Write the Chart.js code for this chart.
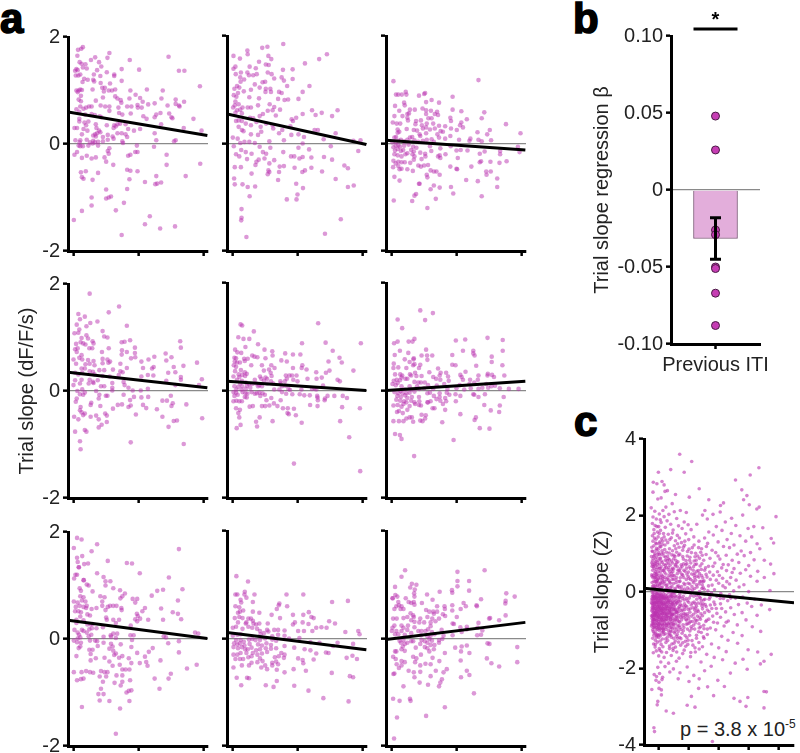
<!DOCTYPE html>
<html>
<head>
<meta charset="utf-8">
<script src="https://cdn.jsdelivr.net/npm/chart.js@4/dist/chart.umd.min.js"></script>
<style>
body { margin: 0; background: #fff; width: 800px; height: 753px; position: relative; overflow: hidden; }
canvas { position: absolute; }
.letter { position: absolute; font: bold 42px "Liberation Sans"; -webkit-text-stroke: 1.6px #000; color: #000; line-height: 42px; }
#pval { position: absolute; left: 680px; top: 718px; font: 20px "Liberation Sans"; color: #222; white-space: nowrap; }
#pval sup { font-size: 12px; line-height: 0; }
</style>
</head>
<body>
<div class="letter" style="left:0;top:-2px">a</div>
<div class="letter" style="left:573px;top:-2px">b</div>
<div class="letter" style="left:574px;top:401px">c</div>
<div id="pval">p = 3.8 x 10<sup>-5</sup></div>
<script>
const yTicksA = [-2, 0, 2];
const xTicksA = [0, 200, 400];
const yTicksB = [-0.1, -0.05, 0, 0.05, 0.1];
const yTicksC = [-4, -2, 0, 2, 4];
const xTicksC = [0, 100, 200, 300, 400];

// [time, slope]
const r1c1 = [[28,1.81],[23,1.78],[13,1.76],[11,1.65],[53,1.57],[66,1.62],[78,1.53],[110,1.7],[104,1.61],[173,1.57],[293,1.63],[18,1.53],[24,1.5],[36,1.49],[28,1.43],[40,1.41],[8,1.4],[4,1.37],[12,1.38],[20,1.3],[6,1.28],[14,1.28],[85,1.45],[72,1.38],[62,1.3],[102,1.34],[125,1.3],[125,1.27],[148,1.4],[202,1.39],[325,1.37],[342,1.37],[32,1.22],[43,1.2],[60,1.2],[63,1.17],[82,1.27],[83,1.14],[148,1.18],[112,1.13],[27,1.16],[390,1.08],[20,1.02],[8,1],[15,1],[25,1.01],[12,.97],[58,1.02],[88,1.05],[96,1.05],[93,.98],[108,1],[118,1],[128,1.02],[226,1.02],[275,1],[175,1],[22,.9],[15,.83],[22,.8],[68,.81],[90,.87],[128,.89],[135,.85],[145,.82],[172,.85],[191,.92],[205,.86],[271,.85],[315,.83],[341,.79],[213,.79],[8,.65],[20,.7],[30,.66],[38,.68],[47,.7],[55,.7],[83,.72],[97,.7],[110,.7],[138,.68],[147,.77],[165,.7],[178,.7],[197,.73],[198,.68],[210,.68],[230,.74],[250,.76],[290,.72],[315,.75],[327,.7],[325,.72],[110,.62],[17,.6],[35,.55],[55,.56],[65,.54],[80,.52],[85,.5],[140,.58],[150,.55],[176,.57],[215,.52],[225,.47],[250,.5],[255,.55],[268,.58],[295,.57],[302,.5],[305,.48],[370,.47],[17,.47],[17,.42],[45,.42],[33,.4],[38,.35],[68,.37],[70,.3],[102,.35],[125,.35],[130,.33],[135,.37],[143,.38],[123,.3],[160,.37],[168,.28],[186,.25],[205,.28],[270,.37],[340,.3],[395,.25],[2,.3],[10,.3],[30,.28],[42,.25],[78,.25],[82,.22],[66,.18],[25,.18],[60,.16],[68,.14],[72,.2],[90,.13],[105,.17],[120,.14],[135,.2],[148,.2],[160,.18],[165,.13],[250,.2],[255,.07],[315,.07],[310,.05],[5,.07],[20,.07],[18,.03],[40,.08],[60,.06],[75,.04],[90,.05],[50,.03],[58,.01],[65,.03],[105,.08],[123,.1],[150,.05],[152,.02],[15,-.03],[20,-.04],[28,-.04],[45,-.03],[75,-.03],[110,-.08],[105,-.13],[195,-.03],[197,-.15],[248,-.05],[10,-.15],[2,-.2],[25,-.26],[40,-.22],[55,-.27],[68,-.25],[95,-.25],[108,-.18],[100,-.33],[122,-.39],[168,-.22],[175,-.2],[190,-.15],[287,-.2],[287,-.39],[391,-.37],[22,-.53],[37,-.51],[25,-.62],[30,-.65],[58,-.67],[75,-.54],[165,-.48],[175,-.5],[197,-.51],[172,-.66],[220,-.71],[255,-.6],[252,-.75],[258,-.74],[270,-.72],[346,-.6],[100,-.85],[165,-.84],[55,-1],[100,-1.02],[108,-1],[115,-.98],[155,-1.1],[55,-1.15],[25,-1.25],[130,-1.24],[0,-1.42],[235,-1.35],[220,-1.5],[267,-1.58],[313,-1.54],[148,-1.7]];
const r1c2 = [[156,1.85],[107,1.8],[91,1.78],[45,1.73],[46,1.66],[2,1.63],[291,1.66],[110,1.63],[119,1.57],[22,1.58],[267,1.57],[81,1.52],[223,1.49],[102,1.47],[111,1.46],[8,1.43],[2,1.39],[52,1.43],[71,1.4],[155,1.37],[185,1.38],[9,1.29],[25,1.32],[45,1.32],[50,1.27],[63,1.27],[74,1.29],[108,1.32],[120,1.29],[23,1.23],[35,1.19],[128,1.21],[151,1.23],[158,1.17],[185,1.2],[24,1.15],[68,1.1],[92,1.14],[100,1.15],[168,1.07],[237,1.07],[13,1.07],[5,1.02],[20,1.04],[83,1.04],[56,1],[102,1.02],[116,1.02],[34,.97],[16,.94],[3,.9],[101,.96],[118,.96],[143,.96],[151,.94],[216,.96],[11,.87],[51,.86],[81,.84],[140,.83],[160,.81],[171,.82],[203,.83],[8,.78],[18,.73],[6,.71],[78,.71],[114,.73],[128,.68],[1,.67],[30,.67],[46,.67],[56,.67],[108,.61],[123,.62],[146,.63],[13,.62],[23,.63],[245,.62],[275,.57],[324,.62],[28,.56],[8,.57],[93,.55],[83,.51],[133,.52],[216,.55],[256,.53],[307,.51],[196,.48],[182,.45],[186,.42],[10,.42],[18,.43],[28,.42],[53,.48],[63,.47],[40,.37],[56,.34],[18,.31],[28,.25],[33,.23],[73,.4],[86,.31],[88,.22],[103,.37],[123,.34],[125,.28],[143,.19],[153,.25],[178,.32],[253,.25],[263,.25],[318,.19],[56,.17],[78,.16],[113,.04],[158,.06],[181,.16],[203,.17],[220,.12],[281,.08],[373,.05],[395,.06],[0,.11],[15,.09],[23,.01],[36,.03],[51,.03],[68,.01],[3,-.05],[83,-.06],[116,-.08],[203,-.08],[216,0],[236,-.11],[303,-.05],[388,-.14],[26,-.12],[40,-.16],[10,-.2],[20,-.24],[58,-.19],[93,-.16],[103,-.19],[156,-.16],[180,-.24],[190,-.24],[206,-.28],[216,-.25],[243,-.26],[282,-.25],[307,-.3],[44,-.29],[80,-.3],[98,-.28],[128,-.31],[113,-.37],[73,-.34],[70,-.4],[6,-.44],[25,-.44],[145,-.43],[158,-.42],[191,-.45],[243,-.45],[345,-.41],[356,-.46],[276,-.52],[223,-.5],[215,-.53],[143,-.53],[110,-.5],[113,-.53],[108,-.57],[58,-.56],[4,-.65],[140,-.68],[318,-.66],[6,-.76],[30,-.76],[46,-.81],[69,-.8],[196,-.75],[217,-.83],[356,-.81],[374,-.78],[52,-.98],[200,-.95],[167,-1.04],[197,-1.04],[27,-1.22],[27,-1.38],[26,-1.43],[334,-1.41],[285,-1.68],[42,-1.74]];
const r1c3 = [[5,1.16],[268,1.18],[13,.91],[20,.91],[31,.91],[43,.96],[45,.91],[84,.89],[103,.94],[100,.92],[188,.87],[123,.81],[146,.76],[38,.76],[40,.71],[10,.7],[106,.77],[23,.61],[56,.63],[71,.63],[95,.65],[106,.62],[121,.61],[188,.63],[215,.6],[286,.58],[8,.51],[33,.51],[48,.55],[53,.56],[106,.55],[133,.55],[140,.59],[143,.53],[48,.48],[181,.48],[232,.45],[278,.47],[3,.39],[15,.37],[26,.37],[50,.43],[75,.42],[90,.43],[113,.47],[123,.47],[183,.42],[215,.39],[353,.36],[73,.36],[93,.34],[108,.37],[128,.37],[165,.32],[146,.33],[211,.34],[220,.3],[18,.26],[23,.22],[18,.2],[46,.27],[68,.25],[78,.24],[96,.28],[106,.3],[118,.26],[133,.28],[151,.23],[158,.22],[183,.28],[201,.25],[265,.21],[303,.25],[295,.17],[398,.19],[13,.12],[8,.11],[28,.07],[56,.11],[63,.12],[86,.17],[106,.19],[88,.14],[108,.07],[123,.08],[141,.17],[146,.11],[165,.09],[181,.14],[208,.07],[243,.09],[240,.05],[268,.07],[278,.04],[307,.06],[2,.02],[12,.03],[20,.05],[38,.04],[48,.07],[70,.06],[82,.03],[96,.05],[130,.03],[12,-.04],[20,-.03],[5,-.07],[25,-.06],[38,-.04],[52,-.02],[66,-.06],[76,-.08],[118,-.05],[150,-.09],[182,-.05],[200,-.13],[213,-.12],[234,-.13],[390,-.06],[10,-.13],[18,-.1],[28,-.14],[35,-.12],[60,-.12],[68,-.15],[88,-.17],[122,-.14],[103,-.19],[166,-.2],[272,-.19],[287,-.15],[335,-.14],[335,-.2],[395,-.16],[8,-.2],[18,-.22],[30,-.24],[42,-.2],[48,-.18],[64,-.2],[70,-.24],[104,-.24],[143,-.24],[150,-.27],[148,-.22],[204,-.27],[5,-.32],[12,-.37],[20,-.34],[30,-.35],[40,-.35],[57,-.36],[68,-.3],[92,-.29],[272,-.35],[276,-.33],[305,-.34],[333,-.36],[355,-.33],[4,-.44],[20,-.42],[24,-.48],[30,-.47],[48,-.48],[65,-.51],[82,-.41],[90,-.43],[100,-.41],[112,-.4],[120,-.5],[130,-.52],[138,-.52],[181,-.43],[200,-.47],[202,-.48],[246,-.43],[292,-.52],[306,-.52],[293,-.58],[108,-.58],[110,-.63],[148,-.58],[8,-.62],[24,-.69],[230,-.68],[266,-.7],[326,-.65],[326,-.81],[84,-.75],[86,-.75],[130,-.78],[120,-.85],[148,-.82],[183,-.81],[75,-.94],[70,-.97],[190,-.93],[278,-.98],[6,-1.06],[63,-1.07],[136,-1.03],[110,-1.2]];
const r2c1 = [[49,1.82],[140,1.58],[108,1.47],[14,1.44],[34,1.39],[19,1.34],[73,1.3],[51,1.27],[9,1.24],[39,1.21],[164,1.22],[17,1.15],[89,1.12],[2,1.08],[14,1.09],[94,1.02],[104,1],[39,1.04],[24,.99],[44,.98],[174,.95],[148,.91],[157,.92],[329,.93],[21,.91],[29,.89],[58,.93],[61,.89],[7,.88],[36,.87],[331,.81],[108,.8],[189,.81],[48,.8],[57,.8],[4,.78],[12,.8],[9,.73],[87,.73],[149,.76],[164,.73],[189,.71],[284,.7],[24,.67],[148,.68],[17,.62],[89,.6],[177,.61],[190,.63],[249,.64],[302,.63],[231,.59],[286,.57],[-1,.59],[26,.59],[44,.58],[61,.56],[104,.59],[112,.55],[209,.55],[381,.53],[7,.51],[36,.5],[49,.51],[64,.48],[89,.52],[107,.53],[144,.51],[309,.45],[339,.47],[24,.42],[34,.42],[164,.43],[214,.43],[242,.42],[247,.45],[49,.37],[59,.36],[79,.39],[94,.39],[121,.4],[144,.37],[151,.35],[314,.35],[292,.34],[4,.34],[14,.31],[26,.34],[64,.31],[89,.28],[111,.27],[139,.3],[209,.27],[229,.3],[246,.29],[331,.26],[396,.22],[331,.21],[4,.2],[24,.21],[49,.21],[59,.17],[74,.2],[-1,.11],[19,.14],[46,.14],[61,.15],[84,.09],[94,.09],[119,.15],[154,.17],[157,.11],[119,.06],[169,.06],[182,.01],[207,.01],[229,.04],[286,.19],[314,.11],[387,.11],[26,.03],[34,-.03],[11,0],[69,0],[119,.01],[19,-.06],[29,-.07],[9,-.14],[6,-.2],[79,-.07],[104,-.09],[154,-.07],[77,-.14],[54,-.22],[82,-.28],[52,-.26],[99,-.09],[186,-.11],[174,-.17],[209,-.12],[230,-.11],[300,-.09],[288,-.18],[274,-.18],[306,-.23],[348,-.25],[136,-.26],[149,-.25],[176,-.27],[169,-.3],[214,-.26],[224,-.32],[257,-.34],[302,-.28],[121,-.33],[21,-.3],[19,-.36],[24,-.4],[29,-.45],[34,-.42],[1,-.48],[14,-.53],[52,-.48],[69,-.46],[97,-.42],[102,-.46],[192,-.44],[274,-.48],[77,-.53],[102,-.58],[309,-.56],[319,-.55],[397,-.51],[86,-.63],[77,-.68],[293,-.67],[4,-.76],[34,-.73],[39,-.76],[19,-.94],[176,-.96],[340,-.99],[21,-1.09]];
const r2c2 = [[264,1.25],[24,1.23],[29,1.21],[65,1.1],[17,.99],[33,.96],[51,.96],[396,.88],[214,.88],[287,.89],[78,.86],[39,.81],[7,.76],[14,.71],[26,.7],[98,.76],[122,.73],[123,.65],[162,.69],[309,.74],[186,.67],[209,.67],[60,.65],[67,.63],[76,.62],[5,.61],[10,.6],[35,.59],[46,.59],[101,.6],[330,.61],[337,.52],[150,.56],[167,.54],[296,.54],[6,.54],[13,.52],[22,.52],[37,.55],[57,.47],[3,.47],[10,.44],[90,.47],[119,.47],[215,.47],[186,.42],[213,.42],[228,.39],[129,.42],[112,.39],[373,.37],[299,.37],[288,.33],[258,.34],[7,.36],[25,.38],[37,.34],[96,.37],[117,.33],[18,.3],[29,.29],[43,.31],[2,.26],[20,.25],[38,.27],[84,.26],[101,.24],[120,.27],[164,.28],[175,.28],[183,.28],[197,.28],[231,.22],[259,.22],[275,.24],[324,.2],[331,.17],[13,.2],[28,.18],[68,.2],[88,.22],[96,.18],[106,.22],[118,.17],[147,.17],[161,.17],[167,.22],[187,.2],[200,.17],[23,.13],[40,.15],[50,.12],[60,.12],[72,.13],[82,.1],[106,.13],[125,.13],[148,.13],[163,.09],[5,.08],[17,.07],[29,.08],[44,.09],[78,.08],[90,.08],[152,.08],[172,.03],[212,.02],[245,.03],[253,.04],[258,.02],[279,.09],[11,.02],[27,.02],[40,.03],[54,.05],[128,.02],[144,.02],[177,.01],[2,-.03],[10,-.04],[30,-.03],[39,-.05],[45,-.06],[58,-.03],[68,-.06],[74,-.05],[82,-.04],[92,-.05],[99,-.08],[152,-.03],[165,-.06],[184,-.07],[207,-.07],[221,-.09],[238,-.09],[261,-.1],[293,-.1],[314,-.1],[340,-.1],[353,-.14],[5,-.1],[15,-.08],[37,-.12],[43,-.13],[85,-.1],[119,-.14],[104,-.18],[148,-.18],[11,-.19],[20,-.2],[2,-.2],[28,-.2],[262,-.13],[263,-.18],[285,-.15],[284,-.18],[239,-.27],[262,-.29],[338,-.31],[138,-.29],[127,-.24],[113,-.28],[100,-.29],[90,-.29],[10,-.33],[22,-.36],[52,-.3],[62,-.29],[155,-.33],[170,-.33],[189,-.34],[169,-.42],[173,-.44],[195,-.46],[213,-.6],[17,-.42],[20,-.5],[83,-.5],[72,-.58],[123,-.57],[332,-.57],[24,-.64],[12,-.7],[75,-.67],[360,-.87],[189,-1.36],[394,-1.5],[393,-.33]];
const r2c3 = [[88,1.49],[127,1.44],[103,1.31],[18,1.32],[32,1.16],[227,.95],[296,.98],[343,.94],[198,.93],[7,.88],[18,.91],[52,.91],[64,.91],[70,.96],[106,.76],[25,.74],[51,.7],[220,.74],[252,.74],[252,.69],[343,.74],[9,.66],[92,.65],[109,.65],[125,.65],[187,.66],[256,.65],[309,.63],[40,.58],[67,.58],[68,.6],[110,.57],[6,.5],[55,.53],[309,.53],[66,.47],[88,.48],[70,.49],[187,.48],[197,.47],[261,.46],[342,.47],[5,.42],[20,.43],[45,.42],[84,.42],[143,.41],[228,.35],[297,.31],[10,.3],[26,.3],[32,.28],[56,.3],[72,.33],[76,.27],[116,.34],[151,.33],[168,.33],[148,.28],[348,.28],[30,.24],[42,.22],[60,.28],[92,.27],[128,.25],[174,.26],[212,.29],[216,.25],[268,.28],[296,.28],[310,.29],[316,.25],[6,.18],[15,.2],[25,.19],[48,.22],[70,.16],[90,.15],[102,.15],[137,.22],[150,.2],[176,.18],[220,.2],[242,.2],[266,.2],[2,.12],[12,.1],[18,.14],[30,.08],[55,.08],[78,.08],[82,.15],[112,.1],[139,.09],[162,.12],[210,.1],[240,.12],[255,.15],[292,.12],[308,.08],[319,.09],[362,.03],[392,.03],[27,-.01],[40,.02],[60,.02],[85,.03],[100,.04],[128,.03],[172,.03],[200,.04],[224,.02],[244,.04],[268,.03],[280,.05],[298,.05],[334,.04],[8,-.03],[20,-.05],[33,-.05],[45,-.05],[55,-.04],[70,-.02],[110,-.05],[118,-.04],[148,-.05],[170,-.04],[197,-.07],[252,-.07],[255,-.08],[288,-.07],[17,-.1],[28,-.12],[41,-.09],[48,-.14],[62,-.12],[84,-.12],[130,-.1],[148,-.12],[165,-.14],[178,-.08],[212,-.1],[268,-.12],[346,-.12],[14,-.17],[26,-.19],[38,-.2],[45,-.22],[60,-.19],[70,-.22],[85,-.2],[110,-.22],[120,-.2],[138,-.16],[150,-.19],[168,-.2],[198,-.2],[5,-.28],[18,-.27],[30,-.3],[36,-.25],[55,-.29],[72,-.25],[84,-.27],[90,-.28],[112,-.22],[126,-.33],[132,-.33],[158,-.25],[165,-.36],[286,-.27],[334,-.28],[22,-.38],[34,-.42],[48,-.36],[55,-.5],[62,-.5],[92,-.45],[105,-.46],[212,-.44],[306,-.37],[332,-.4],[260,-.5],[256,-.55],[16,-.4],[5,-.57],[22,-.57],[36,-.57],[45,-.52],[66,-.58],[88,-.56],[95,-.57],[103,-.52],[156,-.59],[272,-.7],[302,-.71],[10,-.81],[25,-.83],[30,-.9],[191,-.92],[69,-1.22]];
const r3c1 = [[10,1.89],[24,1.86],[72,1.77],[0,1.7],[325,1.68],[55,1.64],[26,1.55],[10,1.52],[12,1.44],[105,1.46],[180,1.41],[164,1.42],[16,1.34],[32,1.4],[44,1.41],[15,1.34],[5,1.2],[10,1.2],[72,1.23],[204,1.23],[1,1.13],[92,1.16],[294,1.15],[30,1.1],[31,1.1],[98,1.08],[113,1.08],[40,1.02],[46,1],[98,1],[18,.95],[122,.95],[336,.93],[22,.9],[58,.89],[143,.91],[158,.85],[276,.92],[258,.9],[241,.81],[20,.8],[30,.78],[82,.8],[95,.78],[144,.76],[150,.8],[182,.75],[196,.75],[322,.72],[0,.7],[12,.68],[25,.72],[36,.7],[88,.7],[190,.68],[6,.6],[18,.62],[30,.6],[40,.62],[88,.62],[105,.6],[112,.62],[122,.62],[132,.62],[147,.58],[220,.58],[270,.57],[4,.52],[14,.52],[22,.5],[38,.58],[55,.56],[70,.58],[98,.54],[148,.54],[212,.52],[195,.47],[306,.5],[322,.47],[20,.42],[42,.46],[50,.44],[100,.4],[198,.43],[205,.38],[230,.36],[332,.37],[8,.36],[30,.35],[102,.36],[122,.36],[140,.36],[190,.37],[196,.33],[276,.36],[8,.3],[42,.27],[52,.27],[58,.28],[90,.22],[130,.3],[176,.25],[70,.2],[25,.17],[48,.18],[56,.2],[2,.17],[12,.12],[16,.08],[30,.15],[40,.12],[54,.08],[114,.07],[122,.1],[134,.1],[175,.07],[185,.07],[375,.12],[385,.1],[278,.05],[285,.03],[12,.01],[0,-.03],[20,.03],[46,.05],[92,.04],[115,.04],[130,.02],[180,-.02],[10,-.06],[22,-.07],[50,-.03],[66,-.03],[72,-.04],[92,-.07],[115,-.09],[145,-.1],[292,-.08],[325,-.04],[15,-.17],[20,-.14],[48,-.2],[58,-.2],[74,-.13],[110,-.18],[120,-.14],[122,-.22],[130,-.27],[150,-.32],[178,-.15],[196,-.26],[244,-.17],[232,-.24],[325,-.25],[8,-.32],[52,-.28],[68,-.36],[95,-.35],[125,-.3],[140,-.35],[170,-.36],[220,-.33],[268,-.4],[52,-.4],[110,-.42],[178,-.45],[204,-.45],[228,-.5],[224,-.43],[142,-.48],[160,-.57],[150,-.57],[172,-.57],[0,-.62],[24,-.62],[38,-.6],[50,-.62],[60,-.63],[84,-.6],[95,-.62],[104,-.62],[120,-.5],[132,-.68],[80,-.7],[100,-.7],[150,-.68],[300,-.65],[380,-.48],[350,-.55],[10,-.77],[22,-.75],[30,-.74],[90,-.8],[126,-.82],[150,-.8],[174,-.77],[250,-.74],[293,-.74],[145,-.87],[84,-.93],[265,-.93],[170,-.97],[178,-.96],[163,-1],[76,-1.03],[92,-1.03],[110,-1.16],[80,-1.15],[172,-1.16],[25,-1.27],[143,-1.3],[130,-1.77]];
const r3c2 = [[11,1.16],[47,1.06],[36,.82],[8,.82],[14,.82],[166,.82],[218,.82],[67,.82],[37,.87],[42,.76],[62,.68],[24,.72],[26,.67],[144,.65],[8,.6],[20,.58],[32,.52],[62,.5],[82,.48],[142,.62],[168,.6],[307,.68],[356,.7],[136,.55],[235,.49],[16,.48],[22,.5],[6,.38],[20,.4],[30,.38],[48,.37],[56,.37],[62,.33],[120,.44],[146,.38],[186,.44],[218,.44],[243,.4],[250,.38],[64,.28],[16,.3],[40,.28],[42,.3],[72,.26],[82,.28],[108,.28],[186,.26],[192,.3],[216,.3],[234,.27],[298,.32],[316,.28],[0,.2],[10,.22],[30,.18],[48,.22],[60,.2],[75,.18],[84,.14],[106,.16],[128,.16],[140,.16],[160,.15],[202,.14],[220,.14],[246,.14],[258,.2],[274,.21],[290,.2],[348,.12],[388,.14],[392,.08],[0,.05],[14,.07],[24,.08],[86,.08],[96,.1],[110,.13],[122,.04],[140,.07],[160,.05],[10,-.03],[24,-.03],[34,-.06],[50,-.02],[60,-.01],[70,-.03],[84,-.03],[100,0],[122,-.02],[134,-.04],[174,.0],[206,.01],[4,-.09],[14,-.11],[22,-.09],[36,-.13],[52,-.1],[78,-.11],[90,-.13],[104,-.09],[118,-.12],[240,-.07],[268,-.08],[324,-.08],[372,-.1],[2,-.16],[16,-.18],[28,-.16],[38,-.2],[46,-.2],[58,-.17],[72,-.22],[84,-.2],[102,-.18],[118,-.19],[134,-.18],[160,-.14],[190,-.17],[222,-.2],[288,-.26],[296,-.27],[310,-.14],[2,-.3],[14,-.3],[24,-.27],[42,-.27],[62,-.27],[76,-.3],[90,-.28],[106,-.25],[150,-.27],[160,-.3],[240,-.22],[258,-.28],[352,-.36],[370,-.32],[8,-.38],[22,-.38],[32,-.38],[48,-.35],[58,-.33],[84,-.37],[92,-.42],[130,-.35],[142,-.33],[158,-.36],[202,-.37],[216,-.4],[250,-.39],[384,-.38],[28,-.5],[58,-.45],[76,-.44],[100,-.5],[122,-.45],[134,-.43],[122,-.5],[140,-.48],[218,-.46],[226,-.6],[160,-.63],[188,-.57],[2,-.54],[50,-.5],[88,-.54],[106,-.57],[136,-.58],[306,-.64],[12,-.73],[44,-.73],[50,-.74],[26,-.87],[102,-.87],[126,-.9],[136,-.79],[362,-.7],[372,-.72],[190,-.88],[234,-.97],[280,-1.11],[358,-1.17]];
const r3c3 = [[41,1.27],[30,1.15],[203,1.24],[287,1.27],[203,1.07],[239,1.07],[62,1.02],[76,1],[57,.95],[10,.96],[71,.91],[203,.97],[239,.89],[69,.84],[148,.87],[186,.9],[187,.85],[354,.84],[11,.81],[17,.78],[70,.78],[109,.82],[380,.78],[2,.75],[3,.75],[43,.75],[126,.72],[276,.73],[20,.68],[52,.68],[60,.66],[68,.68],[70,.63],[352,.7],[351,.65],[93,.66],[222,.66],[14,.6],[22,.62],[30,.6],[36,.55],[140,.6],[163,.6],[187,.62],[229,.6],[262,.62],[263,.6],[8,.55],[27,.55],[106,.53],[116,.5],[140,.5],[164,.55],[128,.5],[187,.52],[213,.55],[352,.43],[58,.47],[66,.43],[130,.46],[158,.45],[165,.42],[201,.4],[4,.37],[15,.37],[36,.38],[48,.4],[68,.4],[88,.37],[110,.4],[125,.37],[146,.37],[304,.38],[301,.37],[332,.34],[60,.34],[70,.31],[85,.3],[100,.3],[120,.3],[135,.32],[188,.28],[192,.27],[268,.29],[2,.2],[8,.24],[30,.24],[36,.2],[50,.24],[70,.21],[120,.23],[212,.21],[232,.22],[0,.14],[14,.14],[30,.14],[48,.16],[60,.1],[82,.14],[92,.14],[104,.14],[112,.17],[124,.12],[154,.16],[216,.12],[232,.17],[265,.2],[280,.15],[10,.08],[20,.08],[40,.07],[90,.06],[110,.04],[120,.05],[132,.08],[160,.05],[188,.06],[264,.06],[276,.07],[24,-.04],[36,-.03],[60,-.05],[66,-.05],[92,-.03],[102,-.05],[116,-.01],[124,-.04],[146,-.03],[156,-.01],[28,-.08],[34,-.15],[40,-.1],[48,-.08],[88,-.1],[110,-.08],[120,-.12],[132,-.12],[146,-.08],[196,-.17],[216,-.15],[232,-.13],[296,-.09],[302,-.1],[10,-.24],[14,-.24],[30,-.2],[40,-.23],[74,-.17],[102,-.16],[110,-.18],[116,-.24],[130,-.2],[164,-.27],[214,-.24],[240,-.27],[388,-.16],[4,-.34],[12,-.38],[30,-.42],[40,-.44],[66,-.34],[76,-.37],[90,-.3],[126,-.36],[147,-.42],[213,-.41],[294,-.37],[308,-.46],[388,-.44],[332,-.52],[15,-.48],[30,-.5],[72,-.44],[88,-.5],[104,-.47],[120,-.48],[22,-.55],[52,-.6],[68,-.63],[88,-.62],[8,-.65],[5,-.66],[70,-.72],[120,-.7],[136,-.6],[160,-.63],[170,-.57],[232,-.6],[240,-.68],[214,-.72],[86,-.82],[112,-.86],[146,-.89],[150,-.82],[36,-.89],[155,-.76],[254,-1.02],[4,-1.12],[24,-1.16],[56,-1.12],[58,-1.16],[164,-1.28],[16,-1.47],[106,-1.44],[7,-1.86]];

const fitX = [-18, 413];
const fitR1C1 = [0.6, 0.16];
const fitR1C2 = [0.55, -0.02];
const fitR1C3 = [0.06, -0.12];
const fitR2C1 = [0.35, 0.06];
const fitR2C2 = [0.17, 0];
const fitR2C3 = [0, 0.17];
const fitR3C1 = [0.35, 0.01];
const fitR3C2 = [0.11, -0.21];
const fitR3C3 = [-0.02, 0.3];

const barLabel = ['Previous ITI'];
const barMean = [-0.0315];
const barErr = [-0.018, -0.045];
const animals = [0.048, 0.026, -0.026, -0.029, -0.05, -0.051, -0.067, -0.088];

// pooled z-scored trials: the sparse outside of the cloud
const trialsOuter = [[71,3.6],[111,3.41],[0,3.13],[41,3.2],[86,3.13],[335,3.25],[306,3.06],[257,2.93],[136,2.7],[278,2.67],[-17,2.87],[-5,2.83],[12,2.89],[19,2.8],[30,2.65],[22,2.63],[-18,2.61],[-2,2.43],[57,2.55],[295,2.52],[9,2.46],[103,2.48],[284,2.41],[168,2.41],[217,2.33],[303,2.28],[-24,2.2],[25,2.22],[46,2.31],[207,2.26],[328,2.17],[336,2.22],[155,2.13],[392,1.97],[206,2.09],[182,2.03],[147,2.01],[281,2.01],[244,1.93],[223,1.83],[163,1.91],[193,1.71],[128,1.77],[258,1.74],[299,1.66],[318,1.71],[348,1.68],[168,1.57],[212,1.61],[243,1.53],[272,1.47],[311,1.44],[376,1.4],[154,1.41],[183,1.49],[229,1.37],[291,1.33],[329,1.26],[384,1.28],[135,1.33],[164,1.27],[199,1.31],[217,1.19],[252,1.23],[338,1.13],[144,1.13],[179,1.09],[237,1.16],[276,1.07],[307,1.03],[159,.98],[191,1.03],[226,.96],[263,.99],[286,.95],[353,.83],[172,.88],[205,.86],[246,.83],[319,.84],[374,.73],[188,.76],[233,.71],[268,.77],[301,.69],[167,.67],[211,.63],[252,.61],[291,.58],[331,.54],[385,.48],[197,.53],[227,.56],[273,.49],[353,.38],[159,.46],[183,.44],[241,.38],[307,.41],[173,.33],[214,.36],[259,.31],[329,.28],[201,.23],[237,.21],[285,.19],[167,.16],[223,.11],[269,.13],[372,.04],[187,.06],[251,.03],[301,.01],[177,-.03],[208,-.04],[237,-.07],[281,-.13],[195,-.11],[217,-.17],[257,-.16],[321,-.19],[169,-.19],[185,-.26],[231,-.23],[296,-.29],[207,-.31],[267,-.33],[343,-.34],[173,-.34],[193,-.43],[241,-.41],[311,-.38],[224,-.52],[279,-.54],[371,-.46],[169,-.51],[181,-.63],[207,-.66],[253,-.59],[329,-.61],[233,-.76],[292,-.73],[161,-.74],[197,-.81],[263,-.86],[173,-.94],[219,-.89],[313,-.91],[191,-.99],[249,-1.06],[341,-1.03],[163,-1.11],[211,-1.16],[279,-1.14],[152,-1.21],[232,-1.26],[177,-1.36],[264,-1.34],[201,-1.46],[299,-1.51],[136,-1.49],[161,-1.63],[226,-1.56],[331,-1.57],[186,-1.71],[282,-1.76],[352,-1.81],[376,-1.63],[214,-1.77],[256,-1.86],[340,-1.88],[176,-1.94],[296,-2.02],[154,-2.06],[240,-2.12],[198,-2.31],[136,-2.27],[134,-2.52],[164,-2.48],[220,-2.47],[352,-2.6],[360,-2.61],[110,-2.73],[184,-2.71],[252,-2.78],[298,-2.76],[96,-2.96],[122,-3.01],[272,-2.86],[292,-2.99],[352,-3.03],[26,-3.11],[50,-3.17],[-15,-3.55],[-13,-3.65],[180,-3.91],[-14,-2.16],[-6,-2.21],[4,-2.13],[14,-2.23],[38,-2.09],[72,-2.11],[118,-2.18],[-8,-2.31],[2,-2.36],[12,-2.29],[66,-2.27],[102,-2.34],[-22,-2.55],[2,-2.52],[10,-2.56],[-2,-2.86],[10,-2.69],[-4,-2.95],[-2,-1.97],[22,-1.95],[50,-2.01],[96,-1.96],[8,-1.83],[34,-1.86],[60,-1.81],[142,-1.83]];
// the dense left part, estimated
const trialsCore = [[-12,2.11],[3,2.04],[15,2.13],[35,2.03],[53,2.1],[73,2.13],[93,2.08],[-18,1.96],[-7,1.91],[6,1.89],[19,1.97],[29,1.86],[61,1.92],[86,1.83],[99,1.76],[-20,1.79],[-11,1.74],[1,1.71],[9,1.82],[23,1.69],[41,1.77],[67,1.73],[79,1.66],[109,1.63],[-15,1.63],[-3,1.57],[7,1.61],[17,1.53],[33,1.51],[49,1.62],[63,1.48],[91,1.52],[118,1.44],[-20,1.47],[-13,1.41],[-1,1.44],[11,1.39],[25,1.36],[43,1.42],[57,1.34],[77,1.29],[101,1.37],[-18,1.33],[-9,1.28],[3,1.27],[13,1.24],[31,1.29],[53,1.21],[69,1.17],[87,1.22],[113,1.16],[-22,1.17],[-15,1.21],[-6,1.14],[5,1.19],[21,1.11],[37,1.13],[61,1.04],[81,1.09],[97,1.06],[124,1.01],[-19,1.06],[-11,1.01],[1,1.03],[11,.99],[27,1.04],[45,.97],[71,.99],[105,.91],[137,.88],[-23,.93],[-13,.96],[-5,.91],[7,.89],[19,.94],[33,.87],[55,.93],[83,.86],[119,.81],[151,.83],[-20,.81],[-9,.79],[0,.83],[13,.77],[29,.82],[47,.76],[65,.79],[95,.74],[127,.73],[-21,.67],[-13,.71],[-3,.72],[9,.66],[23,.69],[39,.7],[57,.72],[79,.67],[107,.61],[143,.59],[-19,.57],[-7,.59],[3,.61],[17,.56],[33,.58],[51,.6],[69,.57],[89,.54],[121,.49],[-22,.45],[-12,.49],[-5,.47],[11,.44],[25,.47],[43,.49],[63,.48],[81,.44],[99,.41],[135,.39],[-18,.37],[-10,.39],[1,.36],[15,.35],[31,.37],[51,.34],[73,.37],[93,.33],[115,.29],[149,.27],[-21,.25],[-11,.27],[-3,.29],[7,.24],[21,.27],[37,.26],[59,.24],[85,.23],[105,.21],[127,.19],[-17,.17],[-8,.14],[3,.16],[13,.13],[29,.19],[45,.14],[67,.16],[97,.11],[121,.09],[145,.09],[-22,.05],[-12,.09],[-1,.06],[9,.04],[25,.07],[35,.03],[57,.05],[79,.06],[111,-.01],[137,.01],[-16,-.02],[-6,-.04],[6,-.03],[17,-.05],[33,-.01],[49,-.03],[71,-.06],[89,-.02],[127,-.09],[155,-.06],[-20,-.11],[-9,-.13],[1,-.09],[12,-.11],[27,-.13],[43,-.09],[61,-.12],[83,-.11],[103,-.16],[137,-.14],[-17,-.21],[-7,-.19],[5,-.23],[15,-.18],[35,-.21],[55,-.19],[73,-.24],[97,-.23],[119,-.26],[151,-.21],[-21,-.31],[-13,-.28],[-1,-.33],[11,-.29],[23,-.31],[45,-.33],[63,-.28],[87,-.31],[109,-.34],[141,-.31],[-18,-.41],[-8,-.43],[3,-.39],[17,-.44],[29,-.38],[53,-.41],[71,-.43],[95,-.39],[123,-.42],[159,-.38],[-22,-.49],[-11,-.53],[-3,-.51],[8,-.48],[22,-.54],[39,-.49],[59,-.52],[81,-.47],[105,-.53],[133,-.51],[-19,-.61],[-10,-.58],[1,-.63],[13,-.57],[27,-.64],[47,-.59],[67,-.61],[91,-.63],[117,-.58],[147,-.62],[-21,-.69],[-14,-.73],[-2,-.68],[11,-.74],[25,-.69],[41,-.71],[59,-.67],[77,-.73],[101,-.69],[129,-.74],[-17,-.83],[-6,-.79],[3,-.84],[19,-.78],[33,-.83],[49,-.81],[71,-.79],[93,-.84],[123,-.81],[151,-.87],[-23,-.89],[-13,-.93],[-1,-.91],[9,-.94],[27,-.88],[43,-.93],[65,-.89],[85,-.93],[111,-.96],[-17,-1.03],[-7,-.99],[3,-1.01],[16,-1.04],[34,-1.01],[55,-1.03],[75,-.98],[105,-1.02],[143,-1.06],[-15,-1.13],[-4,-1.11],[7,-1.14],[23,-1.09],[41,-1.13],[63,-1.11],[89,-1.14],[127,-1.13],[-19,-1.21],[-10,-1.26],[1,-1.19],[13,-1.23],[31,-1.27],[51,-1.21],[71,-1.19],[99,-1.26],[-16,-1.36],[-3,-1.31],[9,-1.37],[25,-1.32],[45,-1.36],[67,-1.31],[115,-1.39],[-11,-1.44],[3,-1.48],[15,-1.43],[37,-1.48],[57,-1.44],[91,-1.42],[-17,-1.59],[-7,-1.54],[11,-1.57],[27,-1.58],[49,-1.53],[81,-1.61],[123,-1.57],[1,-1.67],[19,-1.71],[43,-1.66],[69,-1.73],[107,-1.69],
[-14,.62],[-8,.33],[-16,.08],[-4,.78],[6,.52],[19,.21],[28,.74],[12,1.08],[-2,.98],[24,.91],[-10,.53],[14,.41],[34,.64],[-19,.72],[-6,1.26],[2,.43],[10,.11],[21,.38],[40,.23],[-12,-.07],[-4,-.26],[4,-.48],[16,-.67],[27,-.24],[-18,-.53],[-8,-.74],[7,-.88],[-15,-.34],[2,-.17],[18,-.37],[31,-.57],[44,-.18],[-21,-.84],[-9,-1.07],[6,-1.28],[25,-.98],[38,-.79],[52,-.47],[61,-.29],[-14,-.16],[-3,-.39],[9,-.61],[21,-.83],[36,-.44],[48,-.69],[-7,-1.18],[12,-1.06],[30,-1.18],[-17,.43],[-5,.24],[5,.07],[16,-.12],[29,.11],[46,.33],[-11,.18],[-1,-.16],[11,-.36],[26,-.47],[41,-.64],[58,-.83],[76,-.58],[-20,-.46],[-6,-.64],[8,-.76],[19,-.93],[35,-1.08],[-13,-.47],[1,-.72],[15,-.52],[32,-.74],[47,-.96],[66,-.42],[84,-.67],[-16,-.67],[-2,-.83],[13,-.97],[28,-.58],[54,-.73],[72,-.13],[-9,.03],[3,.21],[17,.03],[31,-.16],[42,.06],[63,.14],[-19,.14],[-7,.27],[7,.37],[20,.52],[36,.44],[-15,.93],[-1,1.12],[10,.81],[26,.64],[-12,.37],[-3,.64],[5,.87],[18,.72],[47,.62],[-22,-.18],[-11,-.37],[0,-.53],[10,-.19],[23,-.07],[38,-.33],[56,-.11],[-18,-.73],[-5,-.92],[12,-.83],[24,-1.23],[39,-.93],[-10,-1.37],[5,-1.53],[-21,1.07],[-8,1.38],[3,1.53],[14,1.33],[-14,1.53],[-5,1.71],[8,1.18],[22,1.23],[36,1.02],[58,.83],[-17,-.93],[-1,-1.14],[18,-1.11],[44,-1.04],[-23,-.62],[-13,-.61],[-6,-.27],[4,-.07],[13,-.26],[22,-.41],[33,-.29],[-16,-.26],[-8,-.53],[6,-.33],[20,-.56],[37,-.66],[51,-.37],[68,-.51],[86,-.21],[-20,-.02],[-10,-.21],[2,-.27],[14,-.43],[27,-.72],[43,-.51],[59,-.64],[78,-.36],[96,-.57],[-4,-.14],[8,-.17],[24,-.26],[40,-.13],[52,-.27],[-14,-.83],[-3,-.58],[11,-.48],[30,-.48],[46,-.77],[64,-.74],[-18,-.31],[-7,-.47],[5,-.59],[17,-.29],[34,-.37],[49,-.57],[74,-.66],[-12,-.63],[0,-.42],[15,-.76],[29,-.92],[55,-.94],[-21,-.41],[-9,-.29],[3,-.12],[19,-.14],[37,-.23],[57,-.33],[-16,-.11],[-5,-.06],[9,-.27],[26,-.33],[44,-.43],[-11,-.71],[2,-.94],[17,-1.01],[41,-.84],[62,-.97],[-19,-.99],[-6,-1.14],[-13,-.17],[1,.09],[15,.26],[32,.07],[50,.22],[-8,.46],[6,.62],[23,.83],[-17,.66],[-3,.17],[12,.31],[38,.53],[-10,.86],[3,.98],[16,1.02],[31,.94],[-21,.41],[-12,.76],[-1,.53],[21,.61],[44,.81],[-15,.28],[-6,.41],[9,.22],[28,.33],[-18,.87],[-8,1.09],[5,1.31],[19,1.44],[-14,.11],[-2,.33],[13,.57],[35,.76],[-22,.76],[-9,.69],[4,.73],[26,.17],[48,.43],[72,.28],
[-7,-.33],[6,-.42],[18,-.62],[-15,-.53],[-2,-.66],[12,-.67],[28,-.82],[-19,-.17],[-10,-.44],[1,-.22],[10,-.53],[24,-.17],[39,-.57],[-17,-.77],[-4,-.47],[8,-.68],[22,-.47],[35,-.13],[53,-.58],[-12,-.28],[0,-.62],[14,-.14],[31,-.42],[47,-.24],[-20,-.64],[-6,-.87],[16,-.87],[36,-1.12],[-14,-1.07],[4,-1.11],[22,-.74],[42,-.39],[66,-.19],[-9,-.61],[3,-.36],[20,-.32],[33,-.67],[51,-.86],[-18,-.09],[-3,-.04],[11,-.07],[25,-.56],[46,-.11],[-13,-.38],[1,-.77],[15,-.33],[29,-.09],[-21,-.23],[-8,-.11],[7,-.14],[23,-.63],[-16,-.43],[-5,-.74],[9,-.43],[27,-.38],[56,-.46],[-11,-.56],[2,-.46],[19,-.71],[40,-.27],[-19,-.36],[-1,-.29],[13,-.57],[33,-.23],[-14,-.72],[5,-.81],[18,-.22],[-7,-.16],[10,-.71],[30,-.63],[50,-.13],[-12,-.91],[6,-.97],[26,-.86],[-23,-.28],[-4,-.22],[8,-.09],[21,-.17],[43,-.59],[-17,-.58],[3,-.56],[16,-.49],[37,-.47],[-9,-.83],[12,-.41],[28,-.17],[60,-.53],[-20,-.77],[-2,-.38],[14,-.86],[34,-.53],[-6,-.56],[7,-.24],[24,-.43],[48,-.32],[-15,-.14],[1,-.86],[20,-.13],[-11,-.12],[4,-.67],[17,-.96],[41,-.72],[-18,-.86],[-3,-.97],[11,-.31],[31,-.27],[70,-.37]];
// the wider band right of the core, estimated
const trialsMid = [[38,1.37],[47,1.08],[56,.68],[64,1.26],[72,.52],[81,.93],[88,1.33],[94,.62],[102,1.12],[111,.47],[119,1.23],[126,.83],[133,.56],[141,1.04],[148,.37],[42,.41],[51,.87],[59,.31],[67,.96],[76,.71],[84,.38],[92,.82],[99,.23],[108,.76],[116,.57],[124,.31],[131,.94],[139,.68],[146,.19],[157,.63],[39,.12],[48,.53],[55,.09],[63,.66],[71,.11],[78,.46],[87,.08],[95,.47],[103,.66],[112,.14],[121,.38],[128,.54],[136,.21],[144,.43],[153,.07],[41,-.07],[50,-.46],[58,-.24],[65,-.68],[73,-.33],[80,-.17],[88,-.46],[94,-.74],[101,-.27],[110,-.63],[118,-.11],[125,-.53],[132,-.29],[140,-.71],[147,-.44],[36,-.86],[45,-.62],[54,-1.07],[62,-.47],[69,-.88],[77,-.49],[83,-1.01],[91,-.36],[98,-.83],[106,-.44],[113,-.77],[121,-.97],[128,-.19],[135,-.83],[143,-.23],[154,-.54],[43,-1.18],[52,-1.34],[60,-1.16],[68,-.77],[75,-1.22],[82,-.86],[90,-1.29],[97,-.97],[104,-1.13],[112,-1.27],[119,-.68],[127,-1.21],[134,-1.04],[141,-.91],[150,-1.17],[37,-1.41],[49,-1.47],[61,-1.57],[74,-1.39],[86,-1.52],[98,-1.37],[108,-1.58],[122,-1.46],[135,-1.32],[147,-1.43],[44,.58],[53,.43],[61,.76],[69,.27],[77,.14],[85,.57],[93,.03],[100,.52],[107,.33],[114,.06],[122,.72],[129,.13],[137,.48],[145,.74],[152,.29],[46,-.29],[54,-.04],[62,-.54],[70,-.14],[79,-.63],[86,-.39],[93,-.17],[100,-.46],[108,-.09],[115,-.41],[123,-.31],[130,-.63],[138,-.04],[146,-.37],[155,-.19],[40,-1.02],[56,-1.28],[66,-1.03],[79,-1.08],[92,-.71],[103,-.81],[117,-.87],[131,-.47],[142,-.57],[158,-.77],[47,1.54],[58,1.13],[70,1.41],[83,1.17],[96,.94],[110,1.03],[122,.92],[134,1.16],[146,.96],[160,1.19],[37,.84],[52,.96],[74,.62],[91,.71],[104,.83],[117,.66],[129,.41],[143,.28],[162,.39],[44,-.01],[60,.38],[75,.02],[88,.19],[103,.07],[118,.24],[133,-.07],[149,.12],[165,.03],[38,-.54],[57,-.74],[72,-.93],[85,-.56],[99,-.62],[113,-.29],[127,-.37],[140,-.16],[156,-.33],[172,-.14],[48,-.86],[64,-1.21],[81,-1.33],[95,-1.19],[109,-.91],[124,-.74],[137,-.66],[152,-.96],[168,-.71],[178,-.43],[41,-.41],[67,-.24],[89,-.58],[106,-.77],[121,-.47],[136,-.94],[149,-.31],[163,-.47],[35,.31],[65,.57],[84,.74],[102,.36],[119,.44],[138,.27],[154,.57],[171,.52],[179,.18],[193,.31],[206,-.17],[163,-.97],[184,-.79],[195,-.56],[203,.43],[215,.16],[182,.67],[199,.94],[216,.72],[228,.27],[188,-.33],[211,-.43],[226,-.79],[241,-.16],[246,.51]];
const fitCX = [-48, 452];
const fitC = [0.1, -0.28];

const fontFamily = '"Liberation Sans"';
const textColor = '#222';

function fixedTicks(list) {
    return function(scale) {
        scale.ticks = list.map(v => ({ value: v }));
    };
}

function axisGrid(onArea) {
    return {
        display: true,
        drawOnChartArea: onArea,
        color: c => (c.tick && c.tick.value === 0 ? '#8a8a8a' : 'rgba(0,0,0,0)'),
        lineWidth: 1.3,
        tickColor: '#000',
        tickLength: 5,
        tickWidth: 2.5
    };
}

function yAxis(min, max, list, yWidth, showLabels, title, titlePad, fmt) {
    return {
        type: 'linear', min: min, max: max,
        afterBuildTicks: fixedTicks(list),
        afterFit: s => { s.width = yWidth; },
        border: { display: true, width: 3, color: '#000' },
        grid: axisGrid(true),
        title: { display: !!title, text: title, color: textColor, font: { family: fontFamily, size: 20 }, padding: { top: titlePad, bottom: 0 } },
        ticks: {
            display: showLabels, color: textColor, padding: 3,
            font: { family: fontFamily, size: 20 },
            callback: fmt || (v => String(v))
        }
    };
}

function xAxis(min, max, list, xHeight) {
    return {
        type: 'linear', min: min, max: max,
        afterBuildTicks: fixedTicks(list),
        afterFit: s => { s.height = xHeight; },
        border: { display: true, width: 3, color: '#000' },
        grid: axisGrid(false),
        ticks: { display: false }
    };
}

function addCanvas(left, top, w, h) {
    const c = document.createElement('canvas');
    c.width = w;
    c.height = h;
    c.style.left = left + 'px';
    c.style.top = top + 'px';
    document.body.appendChild(c);
    return c;
}

function scatterPanel(o) {
    const pad = 14;
    const left = o.axisLeft - o.yWidth;
    const c = addCanvas(left, o.top - pad, o.right - left, pad + o.h + o.xHeight);
    new Chart(c, {
        type: 'scatter',
        data: {
            datasets: [
                {
                    type: 'line',
                    data: o.fitX.map((x, i) => ({ x: x, y: o.fit[i] })),
                    borderColor: '#000', borderWidth: 3, pointRadius: 0, order: 1
                },
                {
                    data: o.pts.map(p => ({ x: p[0], y: p[1] })),
                    backgroundColor: o.color, borderWidth: 0, pointRadius: o.r, order: 2
                }
            ]
        },
        options: {
            responsive: false,
            animation: false,
            layout: { padding: { top: pad, left: 0, right: 0, bottom: 0 } },
            plugins: { legend: { display: false }, tooltip: { enabled: false } },
            scales: {
                x: xAxis(o.xMin, o.xMax, o.xTicks, o.xHeight),
                y: yAxis(o.yMin, o.yMax, o.yTicks, o.yWidth, o.labels, o.title, o.titlePad || 0)
            }
        }
    });
}

const dotColor = 'rgba(186,50,175,0.5)';
const cols = [{ axis: 68, right: 212 }, { axis: 227, right: 371 }, { axis: 386, right: 530 }];
const rows = [36, 283, 531];
const panels = [
    [r1c1, fitR1C1], [r1c2, fitR1C2], [r1c3, fitR1C3],
    [r2c1, fitR2C1], [r2c2, fitR2C2], [r2c3, fitR2C3],
    [r3c1, fitR3C1], [r3c2, fitR3C2], [r3c3, fitR3C3]
];

panels.forEach((p, i) => {
    const col = i % 3;
    const row = Math.floor(i / 3);
    scatterPanel({
        pts: p[0], fit: p[1], fitX: fitX, color: dotColor, r: 2.3,
        axisLeft: cols[col].axis, right: cols[col].right,
        yWidth: col === 0 ? 68 : 8,
        top: rows[row], h: 215, xHeight: 15,
        xMin: -18, xMax: 415, xTicks: xTicksA,
        yMin: -2, yMax: 2, yTicks: yTicksA,
        labels: col === 0,
        title: (col === 0 && row === 1) ? 'Trial slope (dF/F/s)' : '',
        titlePad: 15
    });
});

scatterPanel({
    pts: trialsOuter.concat(trialsCore, trialsMid), fit: fitC, fitX: fitCX, color: 'rgba(186,50,175,0.6)', r: 1.8,
    axisLeft: 644, right: 798, yWidth: 54,
    top: 438, h: 307, xHeight: 15,
    xMin: -48, xMax: 452, xTicks: xTicksC,
    yMin: -4, yMax: 4, yTicks: yTicksC,
    labels: true, title: 'Trial slope (Z)'
});

// panel b
const sigBar = {
    id: 'sigBar',
    afterDraw(chart) {
        const bar = chart.getDatasetMeta(0).data[0];
        const y = chart.scales.y.getPixelForValue(0.1045);
        const ctx = chart.ctx;
        ctx.save();
        ctx.strokeStyle = '#000';
        ctx.lineWidth = 3;
        ctx.beginPath();
        ctx.moveTo(bar.x - bar.width / 2, y);
        ctx.lineTo(bar.x + bar.width / 2, y);
        ctx.stroke();
        ctx.fillStyle = '#000';
        ctx.font = 'bold 20px ' + fontFamily;
        ctx.textAlign = 'center';
        ctx.fillText('*', bar.x, y - 3);
        ctx.restore();
    }
};

const bCanvas = addCanvas(584, 0, 216, 382);
const bFmt = v => (v === 0 ? '0' : v.toFixed(2));
new Chart(bCanvas, {
    data: {
        labels: barLabel,
        datasets: [
            {
                type: 'bar', data: barMean, barThickness: 44,
                backgroundColor: '#E3AEDB', borderColor: '#7d5a78', borderWidth: 1, order: 3
            },
            {
                type: 'line', showLine: false,
                data: animals.map(v => ({ x: barLabel[0], y: v })),
                pointRadius: 4, pointBackgroundColor: '#C63DB4', pointBorderColor: '#4a1a44', pointBorderWidth: 1, order: 2
            },
            {
                type: 'line',
                data: barErr.map(v => ({ x: barLabel[0], y: v })),
                borderColor: '#000', borderWidth: 3,
                pointStyle: 'line', pointRadius: 5.5, pointBorderColor: '#000', pointBorderWidth: 3, order: 1
            }
        ]
    },
    options: {
        responsive: false,
        animation: false,
        layout: { padding: { top: 36, left: 0, right: 40, bottom: 0 } },
        plugins: { legend: { display: false }, tooltip: { enabled: false } },
        scales: {
            x: {
                type: 'category',
                afterFit: s => { s.height = 38; },
                border: { display: true, width: 3, color: '#000' },
                grid: { display: true, offset: false, drawOnChartArea: false, tickColor: '#000', tickLength: 5, tickWidth: 2.5 },
                ticks: { color: textColor, padding: 4, maxRotation: 0, font: { family: fontFamily, size: 20 } }
            },
            y: yAxis(-0.1, 0.1, yTicksB, 87, true, 'Trial slope regression \u03b2', 6, bFmt)
        }
    },
    plugins: [sigBar]
});
</script>
</body>
</html>
